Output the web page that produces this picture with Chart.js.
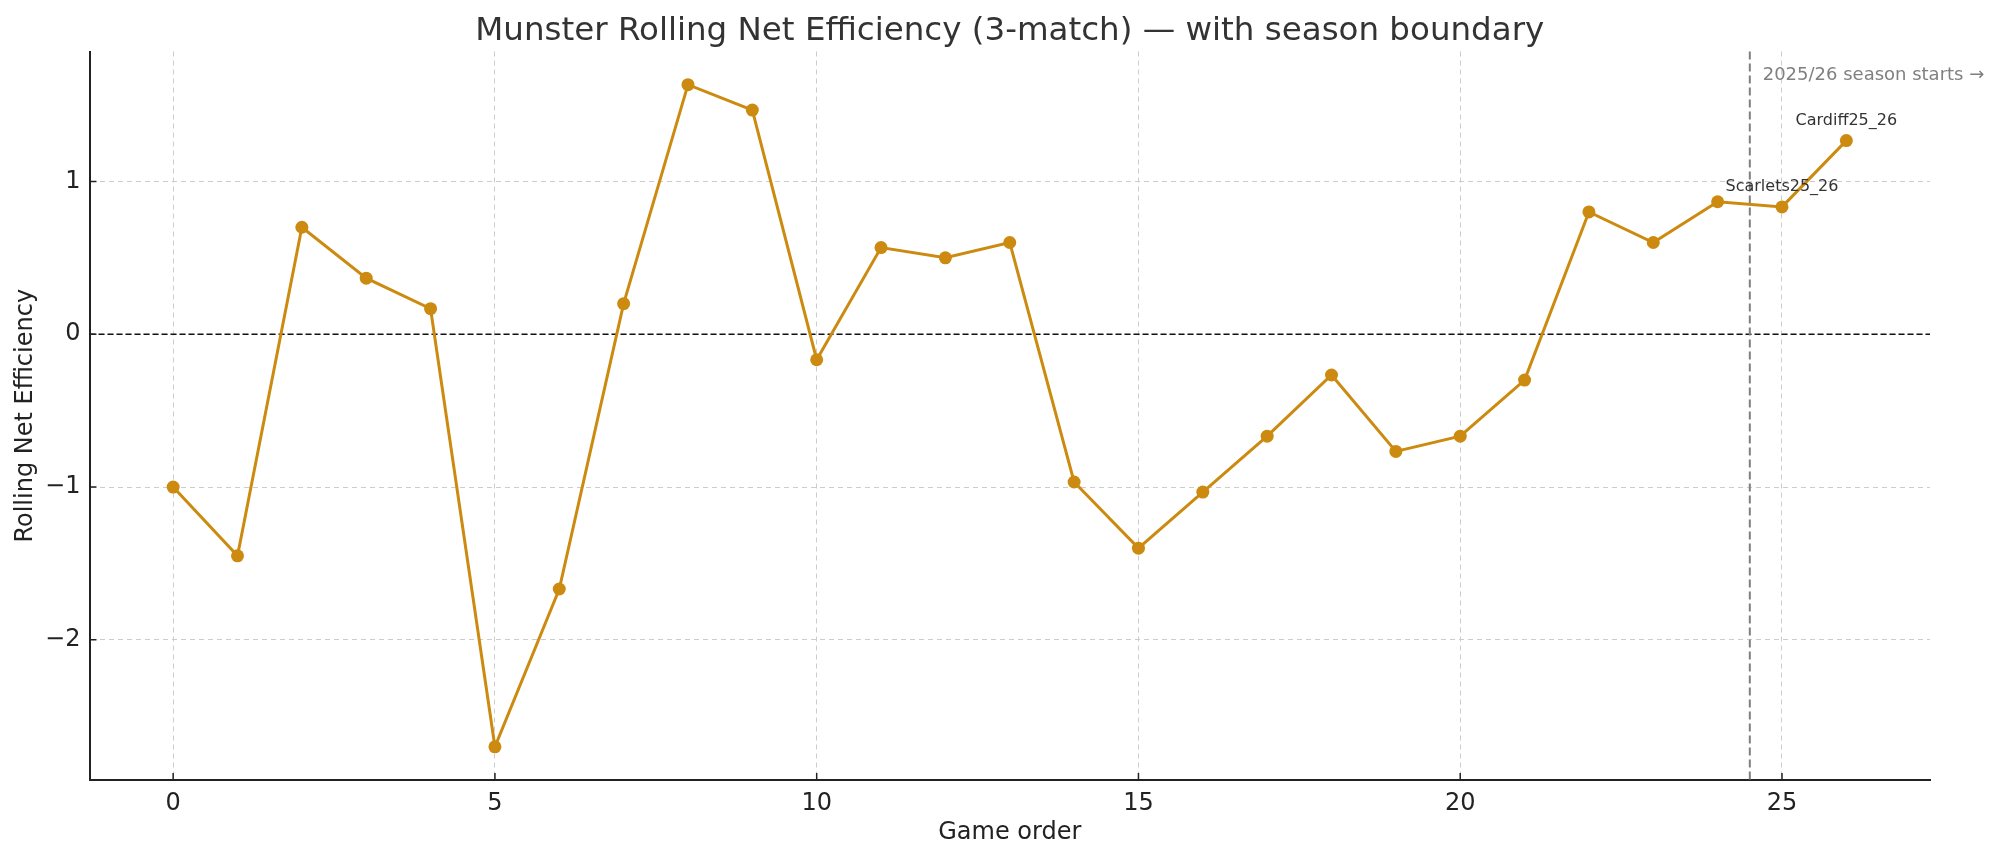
<!DOCTYPE html>
<html>
<head>
<meta charset="utf-8">
<title>Munster Rolling Net Efficiency</title>
<script src="https://cdn.jsdelivr.net/npm/chart.js@4/dist/chart.umd.min.js"></script>
<style>
  html, body { margin: 0; padding: 0; background: #fff; }
  #wrap { width: 2000px; height: 859px; position: relative; }
</style>
</head>
<body>
<div id="wrap"><canvas id="chart" width="2000" height="859"></canvas></div>
<script>
// game order 0..26
const gameOrder = [0, 1, 2, 3, 4, 5, 6, 7, 8, 9, 10, 11, 12, 13, 14, 15, 16, 17, 18, 19, 20, 21, 22, 23, 24, 25, 26];
// rolling net efficiency (3-match)
const rollingNet = [-1.0, -1.45, 0.70, 0.367, 0.167, -2.70, -1.667, 0.20, 1.633, 1.467, -0.167, 0.567, 0.50, 0.60,
  -0.967, -1.40, -1.033, -0.667, -0.267, -0.767, -0.667, -0.30, 0.80, 0.60, 0.867, 0.833, 1.267];
const xTicks = [0, 5, 10, 15, 20, 25];
const yTicks = [-2, -1, 0, 1];
// labelled points
const pointLabels = [
  { index: 25, text: 'Scarlets25_26' },
  { index: 26, text: 'Cardiff25_26' }
];
const seasonBoundary = 24.5;
const seasonLabel = '2025/26 season starts \u2192';
const chartTitle = 'Munster Rolling Net Efficiency (3-match) \u2014 with season boundary';

const lineColor = '#cc8b10';
const FONT = '"DejaVu Sans", Verdana, sans-serif';

// extra lines / text / inward ticks
const extras = {
  id: 'extras',
  beforeDatasetsDraw(chart) {
    const { ctx, chartArea: a, scales: { x, y } } = chart;
    ctx.save();
    // zero line
    const y0 = y.getPixelForValue(0);
    ctx.strokeStyle = '#111';
    ctx.lineWidth = 1.5;
    ctx.setLineDash([6, 3]);
    ctx.beginPath();
    ctx.moveTo(a.left, y0);
    ctx.lineTo(a.right, y0);
    ctx.stroke();
    // season boundary
    const xb = x.getPixelForValue(seasonBoundary);
    ctx.strokeStyle = '#7f7f7f';
    ctx.lineWidth = 2;
    ctx.setLineDash([8, 4]);
    ctx.beginPath();
    ctx.moveTo(xb, a.top);
    ctx.lineTo(xb, a.bottom);
    ctx.stroke();
    ctx.restore();
  },
  afterDatasetsDraw(chart) {
    const { ctx, chartArea: a, scales: { x, y } } = chart;
    ctx.save();
    // title, centred over the plot area
    ctx.fillStyle = '#333';
    ctx.font = '32.5px ' + FONT;
    ctx.textAlign = 'center';
    ctx.textBaseline = 'middle';
    ctx.fillText(chartTitle, (a.left + a.right) / 2, 31.5);
    // season text
    ctx.fillStyle = '#808080';
    ctx.font = '18px ' + FONT;
    ctx.textAlign = 'left';
    ctx.textBaseline = 'alphabetic';
    ctx.fillText(seasonLabel, x.getPixelForValue(seasonBoundary + 0.2), y.getPixelForValue(1.666));
    // point labels
    ctx.fillStyle = '#333';
    ctx.font = '16px ' + FONT;
    ctx.textAlign = 'center';
    ctx.textBaseline = 'middle';
    pointLabels.forEach(p => {
      const px = x.getPixelForValue(gameOrder[p.index]);
      const py = y.getPixelForValue(rollingNet[p.index]);
      ctx.fillText(p.text, px, py - 20);
    });
    // inward tick marks
    ctx.strokeStyle = '#222';
    ctx.lineWidth = 1.5;
    ctx.setLineDash([]);
    ctx.beginPath();
    xTicks.forEach(v => {
      const px = x.getPixelForValue(v);
      ctx.moveTo(px, a.bottom);
      ctx.lineTo(px, a.bottom - 7);
    });
    yTicks.forEach(v => {
      const py = y.getPixelForValue(v);
      ctx.moveTo(a.left, py);
      ctx.lineTo(a.left + 7, py);
    });
    ctx.stroke();
    ctx.restore();
  }
};

new Chart(document.getElementById('chart'), {
  type: 'line',
  data: {
    datasets: [{
      data: gameOrder.map((g, i) => ({ x: g, y: rollingNet[i] })),
      borderColor: lineColor,
      backgroundColor: lineColor,
      borderWidth: 3,
      pointRadius: 6.5,
      pointBorderWidth: 0,
      pointBackgroundColor: lineColor,
      tension: 0
    }]
  },
  options: {
    responsive: false,
    animation: false,
    devicePixelRatio: 1,
    layout: { padding: { left: 0, right: 70, top: 51.5, bottom: 0 } },
    plugins: {
      legend: { display: false },
      tooltip: { enabled: false },
      title: { display: false }
    },
    scales: {
      x: {
        type: 'linear',
        min: -1.3,
        max: 27.3,
        afterBuildTicks: s => { s.ticks = xTicks.map(v => ({ value: v })); },
        afterFit: s => { s.height = 79; },
        ticks: {
          color: '#222',
          font: { family: FONT, size: 24 },
          padding: 9
        },
        grid: {
          color: '#cccccc',
          lineWidth: 1,
          drawTicks: false
        },
        border: { display: true, color: '#222', width: 2, dash: [5, 4] },
        title: {
          display: true,
          text: 'Game order',
          color: '#222',
          font: { family: FONT, size: 24, lineHeight: 1.2 },
          padding: { top: 0, bottom: 12 }
        }
      },
      y: {
        type: 'linear',
        min: -2.917,
        max: 1.85,
        afterBuildTicks: s => { s.ticks = yTicks.map(v => ({ value: v })); },
        afterFit: s => { s.width = 89.5; },
        ticks: {
          color: '#222',
          font: { family: FONT, size: 24 },
          padding: 9,
          callback: v => String(v).replace('-', '\u2212')
        },
        grid: {
          color: '#cccccc',
          lineWidth: 1,
          drawTicks: false
        },
        border: { display: true, color: '#222', width: 2, dash: [5, 4] },
        title: {
          display: true,
          text: 'Rolling Net Efficiency',
          color: '#222',
          font: { family: FONT, size: 24, lineHeight: 1.2 },
          padding: { top: 11, bottom: 0 }
        }
      }
    }
  },
  plugins: [extras]
});
</script>
</body>
</html>
